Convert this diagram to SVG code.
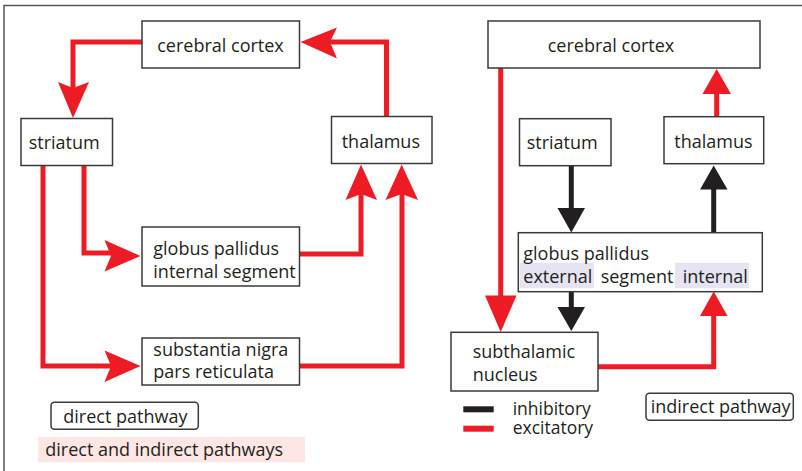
<svg xmlns="http://www.w3.org/2000/svg" width="802" height="471" viewBox="0 0 802 471">
<style>
.box{fill:#fff;stroke:#3a3a3a;stroke-width:1.5}
.t{font-family:"Open Sans","Liberation Sans",sans-serif;font-size:18px;fill:#231f20}
.s{font-size:17.5px}
.m{text-anchor:middle}
.r{fill:none;stroke:#ed1c24;stroke-width:5}
.k{fill:none;stroke:#231f20;stroke-width:5}
.ra{fill:#ed1c24}
.ka{fill:#231f20}
</style>
<rect x="0" y="0" width="802" height="471" fill="#fff"/>
<path d="M4,471 V5.5 H802" fill="none" stroke="#555" stroke-width="1.5"/>

<g id="connectors">
  <path class="r" d="M142,42 H73 V88"/>
  <path class="ra" d="M73,118 L58,82 L73,88 L89,82 Z"/>
  <path class="r" d="M386.5,117 V42 H330"/>
  <path class="ra" d="M300.5,42 L337,27.5 L330,42 L337,58.5 Z"/>
  <path class="r" d="M84,166 V253 H111"/>
  <path class="ra" d="M140.5,256 L104.5,240 L111,256 L104.5,271.5 Z"/>
  <path class="r" d="M43,166 V366 H111"/>
  <path class="ra" d="M140.5,366 L104.5,350.5 L111,366 L104.5,382 Z"/>
  <path class="r" d="M299,254 H361 V194"/>
  <path class="ra" d="M361,164.5 L345.5,200 L361,194 L377,200 Z"/>
  <path class="r" d="M299,366 H402 V194"/>
  <path class="ra" d="M401.7,164.5 L385.5,200 L401.7,194 L418,200 Z"/>

  <path class="r" d="M500.7,68 V298"/>
  <path class="ra" d="M500.7,332 L485,295.5 L516.5,295.5 Z"/>
  <path class="k" d="M571.3,166 V210"/>
  <path class="ka" d="M571.3,232.5 L557.5,208 L585,208 Z"/>
  <path class="k" d="M713.7,232.5 V187"/>
  <path class="ka" d="M713.7,165.5 L700,189.5 L727.5,189.5 Z"/>
  <path class="r" d="M716.7,117 V92"/>
  <path class="ra" d="M716.7,69 L702.5,94 L731,94 Z"/>
  <path class="k" d="M571.3,291.5 V309"/>
  <path class="ka" d="M571.3,331 L557.5,307 L585,307 Z"/>
  <path class="r" d="M598,366.7 H713.7 V314"/>
  <path class="ra" d="M713.7,291.5 L700,316 L727.5,316 Z"/>
</g>

<g id="l-cortex"><rect class="box" x="142" y="21" width="157.5" height="47"/><text class="t m" x="220.5" y="52">cerebral cortex</text></g>
<g id="l-striatum"><rect class="box" x="21" y="118.5" width="91.5" height="47"/><text class="t" x="28.7" y="149">striatum</text></g>
<g id="l-thalamus"><rect class="box" x="331.5" y="116.5" width="100.5" height="47"/><text class="t" x="341.7" y="148">thalamus</text></g>
<g id="l-gpi"><rect class="box" x="142" y="227" width="157.5" height="59"/><text class="t" x="153.3" y="255">globus pallidus</text><text class="t" x="153.3" y="277.7">internal segment</text></g>
<g id="l-snr"><rect class="box" x="142" y="338" width="157.5" height="47"/><text class="t" x="153.3" y="356">substantia nigra</text><text class="t" x="153.3" y="378">pars reticulata</text></g>
<g id="l-legend1"><rect x="51" y="402.3" width="147.3" height="27" rx="3.5" fill="#fff" stroke="#3a3a3a" stroke-width="1.5"/><text class="t" x="63.3" y="422.5">direct pathway</text></g>
<g id="l-legend2"><rect x="38" y="437" width="267" height="25.3" fill="#fde6e4"/><text class="t" x="45.3" y="455.5">direct and indirect pathways</text></g>

<g id="r-cortex"><rect class="box" x="488" y="21" width="272" height="47"/><text class="t m" x="611" y="52">cerebral cortex</text></g>
<g id="r-striatum"><rect class="box" x="519.5" y="118.7" width="91.5" height="47"/><text class="t" x="526.7" y="149">striatum</text></g>
<g id="r-thalamus"><rect class="box" x="664" y="116.7" width="99.7" height="47"/><text class="t" x="674.3" y="147.5">thalamus</text></g>
<g id="r-gp"><rect class="box" x="518.3" y="232.7" width="244" height="59"/>
  <rect x="520" y="262.7" width="74" height="25.6" fill="#e6e4f2"/>
  <rect x="675" y="262.7" width="74" height="25.6" fill="#e6e4f2"/>
  <text class="t" x="523.3" y="260">globus pallidus</text>
  <text class="t" x="523.3" y="283.3">external</text>
  <text class="t" x="600.7" y="283.3">segment</text>
  <text class="t" x="682.7" y="283.3">internal</text></g>
<g id="r-stn"><rect class="box" x="451" y="332.3" width="147" height="58.7"/><text class="t" x="472.7" y="357.7">subthalamic</text><text class="t" x="472.7" y="381">nucleus</text></g>
<g id="r-legend"><rect x="646" y="393.3" width="147.3" height="27" rx="3.5" fill="#fff" stroke="#3a3a3a" stroke-width="1.5"/><text class="t" x="650.7" y="413.3">indirect pathway</text></g>
<g id="key">
  <line x1="463.3" y1="409.3" x2="493.7" y2="409.3" stroke="#231f20" stroke-width="6"/>
  <line x1="463.3" y1="428.7" x2="493.7" y2="428.7" stroke="#ed1c24" stroke-width="6"/>
  <text class="t s" x="512.7" y="415">inhibitory</text>
  <text class="t s" x="512.7" y="434">excitatory</text>
</g>
</svg>
